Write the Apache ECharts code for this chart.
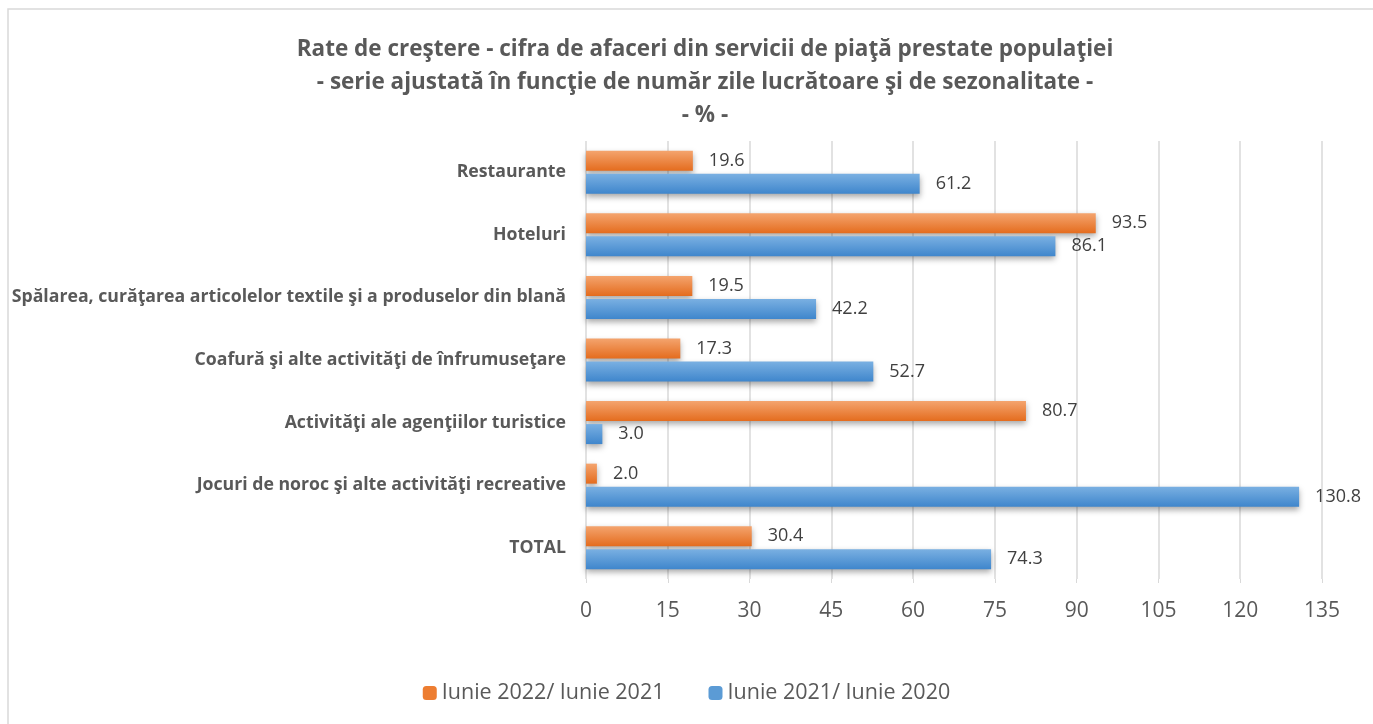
<!DOCTYPE html>
<html><head><meta charset="utf-8">
<script src="https://cdn.jsdelivr.net/npm/echarts@6/dist/echarts.min.js"></script>
<style>html,body{margin:0;padding:0;background:#fff}#c{width:1373px;height:724px}</style>
</head><body><div id="c"></div>
<script>
const categories = ["Restaurante","Hoteluri","Spălarea, curăţarea articolelor textile şi a produselor din blană","Coafură şi alte activităţi de înfrumuseţare","Activităţi ale agenţiilor turistice","Jocuri de noroc şi alte activităţi recreative","TOTAL"];
const seriesNames = ["Iunie 2022/ Iunie 2021","Iunie 2021/ Iunie 2020"];
const values2022 = [19.6, 93.5, 19.5, 17.3, 80.7, 2.0, 30.4];
const values2021 = [61.2, 86.1, 42.2, 52.7, 3.0, 130.8, 74.3];
const xTicks = {min:0, max:135, interval:15};

const font = "'Open Sans',sans-serif";
const grad = (a,b)=>new echarts.graphic.LinearGradient(0,0,0,1,[{offset:0,color:a},{offset:1,color:b}]);
const chart = echarts.init(document.getElementById('c'));
const mk = (name, data, c1, c2) => ({
  name, type:'bar', data, barWidth:20, barGap:'15%',
  itemStyle:{color:grad(c1,c2), shadowColor:'rgba(0,0,0,0.35)', shadowBlur:6, shadowOffsetY:3},
  label:{show:true, position:'right', distance:16, color:'#404040', fontSize:18, fontFamily:font,
    formatter:p=>p.value.toFixed(1)}
});
chart.setOption({
  backgroundColor:'#fff',
  animation:false,
  graphic:[{type:'rect', shape:{x:8,y:9,width:1380,height:730}, style:{fill:'none', stroke:'#d9d9d9', lineWidth:1.5}}],
  title:{text:'Rate de creştere - cifra de afaceri din servicii de piaţă prestate populaţiei\n- serie ajustată în funcţie de număr zile lucrătoare şi de sezonalitate -\n- % -',
    left:700, textAlign:'center', top:28,
    textStyle:{color:'#595959', fontSize:22.5, fontWeight:'bold', fontFamily:font, lineHeight:33}},
  legend:{top:677, left:'center', itemWidth:14, itemHeight:14, itemGap:44,
    textStyle:{color:'#595959', fontSize:21.5, fontFamily:font},
    data:[{name:seriesNames[0], itemStyle:{color:'#ED7D31'}},{name:seriesNames[1], itemStyle:{color:'#5B9BD5'}}]},
  grid:{left:586, right:51, top:141, bottom:145, containLabel:false},
  xAxis:{type:'value', min:xTicks.min, max:xTicks.max, interval:xTicks.interval,
    axisLine:{show:false}, axisTick:{show:true, length:4, lineStyle:{color:'#d9d9d9'}},
    splitLine:{lineStyle:{color:'#d9d9d9', width:1.5}},
    axisLabel:{color:'#595959', fontSize:21, fontFamily:font, margin:22}},
  yAxis:{type:'category', data:categories, inverse:true,
    axisLine:{show:false}, axisTick:{show:false},
    axisLabel:{color:'#595959', fontSize:17.7, fontWeight:'bold', fontFamily:font, margin:20}},
  series:[mk(seriesNames[0], values2022, '#F4A46E', '#E46C1E'), mk(seriesNames[1], values2021, '#7AB0E2', '#3F86CC')]
});
</script></body></html>
